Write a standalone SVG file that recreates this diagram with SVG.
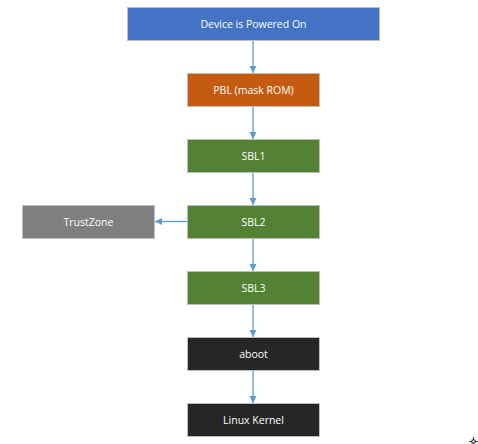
<svg xmlns="http://www.w3.org/2000/svg" width="478" height="444" viewBox="0 0 478 444">
<style>
.box{stroke:#BFBFBF;stroke-width:1}
.t{font-family:"Open Sans","Liberation Sans",sans-serif;font-size:10.5px;fill:#FFFFFF;text-anchor:middle;dominant-baseline:central}
.c{stroke:#5B9BD5;stroke-width:1.3;fill:none;marker-end:url(#ah)}
</style>
<defs>
<marker id="ah" markerWidth="8" markerHeight="8" refX="7" refY="4" orient="auto" markerUnits="userSpaceOnUse">
<path d="M0,0.5 L7,4 L0,7.5 Z" fill="#5B9BD5"/>
</marker>
</defs>
<rect width="478" height="444" fill="#FFFFFF"/>
<g id="connectors">
<line class="c" x1="253" y1="40" x2="253" y2="73"/>
<line class="c" x1="253" y1="106" x2="253" y2="139"/>
<line class="c" x1="253" y1="172" x2="253" y2="205"/>
<line class="c" x1="187" y1="221.5" x2="155" y2="221.5"/>
<line class="c" x1="253" y1="238" x2="253" y2="271"/>
<line class="c" x1="253" y1="304" x2="253" y2="337"/>
<line class="c" x1="253" y1="370" x2="253" y2="403"/>
</g>
<g id="power">
<rect class="box" x="127.5" y="7.5" width="252" height="33" fill="#4472C4"/>
<text class="t" x="253.5" y="24">Device is Powered On</text>
</g>
<g id="pbl">
<rect class="box" x="187.5" y="73.5" width="132" height="33" fill="#C55A11"/>
<text class="t" x="253.5" y="90">PBL (mask ROM)</text>
</g>
<g id="sbl1">
<rect class="box" x="187.5" y="139.5" width="132" height="33" fill="#548235"/>
<text class="t" x="253.5" y="156">SBL1</text>
</g>
<g id="sbl2">
<rect class="box" x="187.5" y="205.5" width="132" height="33" fill="#548235"/>
<text class="t" x="253.5" y="222">SBL2</text>
</g>
<g id="trustzone">
<rect class="box" x="22.5" y="205.5" width="132" height="33" fill="#7F7F7F"/>
<text class="t" x="88.5" y="222">TrustZone</text>
</g>
<g id="sbl3">
<rect class="box" x="187.5" y="271.5" width="132" height="33" fill="#548235"/>
<text class="t" x="253.5" y="288">SBL3</text>
</g>
<g id="aboot">
<rect class="box" x="187.5" y="337.5" width="132" height="33" fill="#262626"/>
<text class="t" x="253.5" y="354">aboot</text>
</g>
<g id="kernel">
<rect class="box" x="187.5" y="403.5" width="132" height="33" fill="#262626"/>
<text class="t" x="253.5" y="420">Linux Kernel</text>
</g>
<g id="cursor" stroke="#333333" stroke-width="1" fill="none">
<line x1="469" y1="441.5" x2="478" y2="441.5"/>
<line x1="473.5" y1="437" x2="473.5" y2="444"/>
<rect x="472" y="440" width="3" height="3" fill="#FFFFFF"/>
</g>
</svg>
